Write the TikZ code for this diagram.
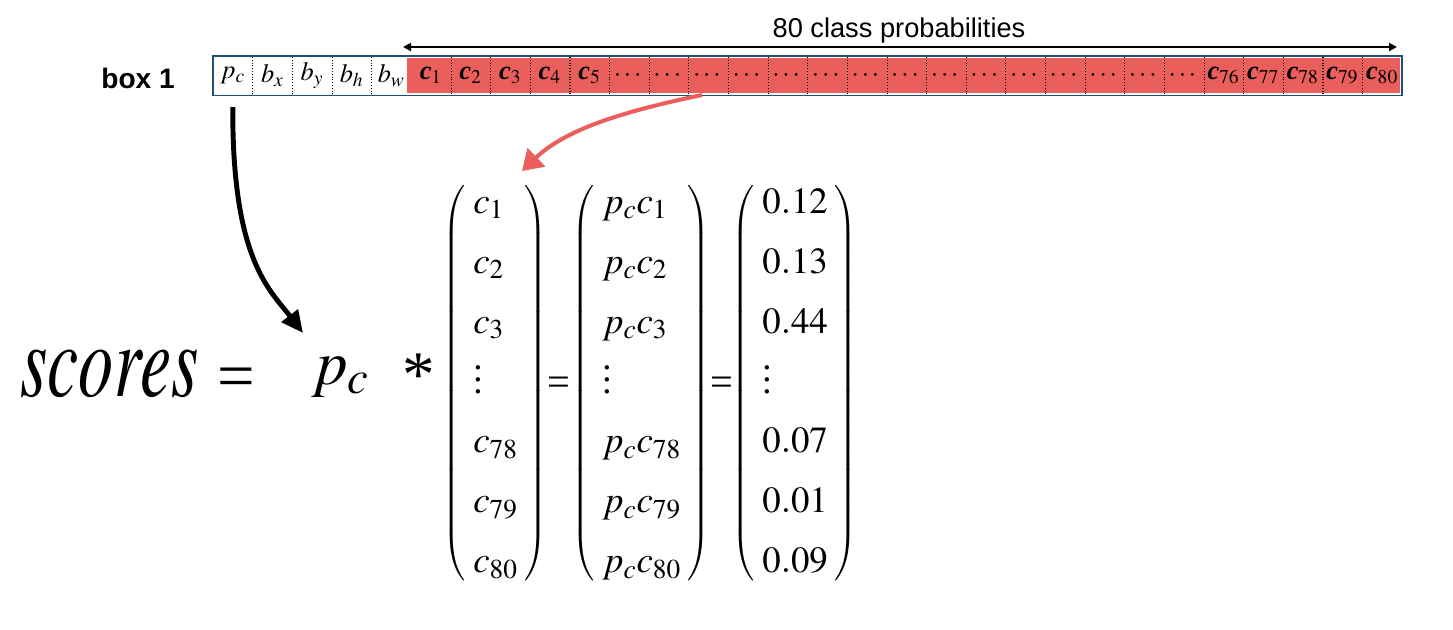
\documentclass[tikz,border=0pt]{standalone}
\usepackage{amsmath}
\usepackage{mathptmx}
\usepackage[no-math]{fontspec}
\usepackage{graphicx}
\setmainfont{Liberation Serif}
\setsansfont{Liberation Sans}
\usetikzlibrary{arrows.meta,matrix,positioning}
\definecolor{BoxBlue}{RGB}{31,78,121}
\definecolor{ProbRed}{RGB}{234,94,91}
\newcommand{\tallvdots}{\vbox{\baselineskip 6.6pt \lineskiplimit 0pt \hbox{.}\hbox{.}\hbox{.}}}
\newcommand{\bc}{\text{\bfseries\itshape c}}

\begin{document}
\begin{tikzpicture}[
    x=0.02cm, y=-0.02cm,
    cell/.style={minimum width=0.7926cm, minimum height=0.72cm, inner sep=0pt, font=\fontsize{15}{18}\selectfont},
    sep/.style={densely dotted, line width=0.6pt},
    vec/.style={matrix of math nodes, inner sep=0pt, anchor=west, row sep=0.4cm,
      nodes={anchor=base west, inner sep=0pt, text height=0.6cm, text depth=0.2cm},
      font=\fontsize{21}{25}\selectfont, left delimiter=(, right delimiter=)},
    every delimiter/.style={font=\fontsize{15}{18}\selectfont},
    every left delimiter/.style={xshift=-0.1cm},
    every right delimiter/.style={xshift=0.08cm},
    big/.style={inner sep=0pt, font=\fontsize{40}{46}\selectfont},
    eqsign/.style={inner sep=0pt, anchor=base, font=\fontsize{23}{27}\selectfont},
    pcarrow/.style={line width=2.8pt, -{Triangle[length=0.44cm, width=0.4cm]}},
    redarrow/.style={ProbRed, line width=2.3pt, -{Triangle[length=0.4cm, width=0.5cm]}}
  ]
  \useasboundingbox (0,0) rectangle (1453,629);

  % the box row
  \node[anchor=base west, inner sep=0pt, font=\sffamily\bfseries\fontsize{16}{19}\selectfont] (boxlabel) at (101,88) {box 1};
  \fill[ProbRed] (407,57.5) rectangle (1399.5,93);
  \foreach \lab [count=\i from 0] in {p_c,b_x,b_y,b_h,b_w,
      \bc_1,\bc_2,\bc_3,\bc_4,\bc_5,
      \cdots,\cdots,\cdots,\cdots,\cdots,\cdots,\cdots,\cdots,\cdots,\cdots,\cdots,\cdots,\cdots,\cdots,\cdots,
      \bc_{76},\bc_{77},\bc_{78},\bc_{79},\bc_{80}}
    \node[cell] (cell\i) at (232.8+\i*39.63,75.25) {$\lab$};
  \foreach \i in {0,1,2,3,5,6,...,28}
    \draw[sep] (cell\i.north east) -- (cell\i.south east);
  \draw[BoxBlue, line width=1.1pt] (213,56) rectangle (1402,95.5);

  % 80 classes
  \node[anchor=base, inner sep=0pt, font=\sffamily\fontsize{15.5}{18}\selectfont] (probs) at (899,37) {80 class probabilities};
  \coordinate (pl) at (403,47);
  \coordinate (pr) at (1397,47);
  \draw[line width=1.1pt, {Triangle[length=0.16cm, width=0.16cm]}-{Triangle[length=0.16cm, width=0.16cm]}] (pl) -- (pr);

  % the equation
  \node[big, anchor=base west] (scores) at (20,396) {\scalebox{1}[1.5]{$scores$}};
  \node[big, anchor=base, font=\fontsize{38}{44}\selectfont] (eq0) at (236,398) {=};
  \node[big, anchor=base west, font=\fontsize{36}{42}\selectfont] (pc) at (311,384) {$p_c$};
  \node[big, font=\fontsize{37}{42}\selectfont] (ast) at (419,375) {*};

  \matrix[vec] (m1) at (473,383) {
    c_1 \\ c_2 \\ c_3 \\ \tallvdots \\ c_{78} \\ c_{79} \\ c_{80} \\
  };
  \node[eqsign] (eqA) at (558.5,395) {=};
  \matrix[vec] (m2) at (602,383) {
    p_c c_1 \\ p_c c_2 \\ p_c c_3 \\ \tallvdots \\ p_c c_{78} \\ p_c c_{79} \\ p_c c_{80} \\
  };
  \node[eqsign] (eqB) at (721.5,395) {=};
  \matrix[vec] (m3) at (762,383) {
    0.12 \\ 0.13 \\ 0.44 \\ \tallvdots \\ 0.07 \\ 0.01 \\ 0.09 \\
  };

  % arrows
  \coordinate (redstart) at (702,95);
  \coordinate (redtip) at (522,171);
  \draw[redarrow] (redstart) .. controls (620,112) and (565,130) .. (redtip);
  \coordinate (pctip) at (303,333);
  \draw[pcarrow] ([yshift=-0.27cm]cell0.south) .. controls (232,260) and (270,290) .. (pctip);
\end{tikzpicture}
\end{document}
